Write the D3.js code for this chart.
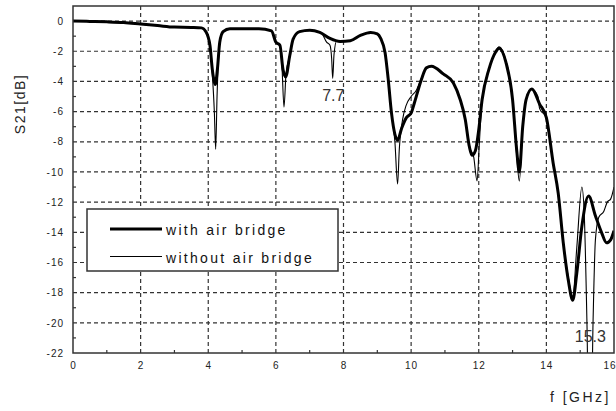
<!DOCTYPE html>
<html>
<head>
<meta charset="utf-8">
<script src="https://cdn.jsdelivr.net/npm/d3@7"></script>
<style>
  body { margin: 0; background: #fff; }
  text { font-family: "Liberation Sans", Arial, sans-serif; }
</style>
</head>
<body>
<div id="chart"></div>
<script>
// ---- data ----
const withF = [0, 0.5, 1, 1.5, 2, 2.5, 3, 3.5, 3.8, 3.93, 4.05, 4.12, 4.21, 4.27, 4.34, 4.44, 4.64, 5, 5.5, 5.87, 6, 6.12,
  6.21, 6.29, 6.41, 6.51, 6.7, 7, 7.3, 7.6, 7.9, 8.2, 8.5, 8.8, 9, 9.1, 9.23, 9.32, 9.42, 9.52, 9.6, 9.72, 9.86, 10,
  10.1, 10.3, 10.45, 10.6, 10.95, 11.25, 11.45, 11.6, 11.72, 11.8, 11.9, 12, 12.1, 12.3, 12.5, 12.6, 12.8, 13, 13.12,
  13.2, 13.3, 13.4, 13.57, 13.8, 14, 14.2, 14.35, 14.5, 14.65, 14.78, 14.9, 15.05, 15.25, 15.45, 15.63, 15.78, 15.9, 16];
const withV = [0, -0.02, -0.05, -0.1, -0.2, -0.3, -0.4, -0.42, -0.45, -0.7, -1.6, -3.2, -4.2, -3.2, -1.4, -0.7, -0.5, -0.5, -0.5, -0.65, -1.4, -1.6,
  -3.2, -3.7, -2.3, -1.2, -0.7, -0.6, -0.75, -1.15, -1.35, -1.3, -0.95, -0.75, -0.85, -1.15, -2.1, -3.8, -6.1, -7.5, -7.9, -7.1, -6.4, -6.1,
  -5.4, -3.9, -3.1, -3.0, -3.5, -4.1, -5.2, -6.5, -8.3, -8.9, -8.6, -7.2, -5.2, -3.2, -2.05, -1.8, -2.7, -5.2, -8.5,
  -10.0, -7.0, -5.2, -4.5, -5.5, -6.4, -9.4, -11.4, -14.7, -17.2, -18.5, -16.7, -13.6, -11.6, -12.9, -14.0, -14.7, -14.5, -13.9];

const withoutF = [0, 0.5, 1, 1.5, 2, 2.5, 3, 3.5, 3.8, 3.93, 4.05, 4.12, 4.18, 4.22, 4.26, 4.34, 4.44, 4.64, 5, 5.5, 5.87, 6, 6.12,
  6.18, 6.24, 6.3, 6.41, 6.51, 6.7, 7, 7.35, 7.5, 7.6, 7.65, 7.68, 7.72, 7.8, 7.9, 8.2, 8.5, 8.8, 9, 9.1, 9.23, 9.32, 9.42, 9.52, 9.6,
  9.65, 9.75, 9.85, 10, 10.15, 10.3, 10.45, 10.6, 10.95, 11.25, 11.45, 11.6, 11.72, 11.85, 11.95, 12.02, 12.1, 12.3, 12.5, 12.6, 12.8,
  13, 13.12, 13.2, 13.3, 13.4, 13.57, 13.75, 13.8, 14, 14.2, 14.35, 14.5, 14.65, 14.78, 14.9, 15.05, 15.12, 15.2, 15.25, 15.33, 15.38,
  15.45, 15.55, 15.7, 15.8, 15.9, 16];
const withoutV = [0, -0.02, -0.05, -0.1, -0.2, -0.3, -0.4, -0.42, -0.45, -0.7, -1.6, -3.5, -6.0, -8.5, -5.0, -1.4, -0.7, -0.5, -0.5, -0.5, -0.65, -1.4, -1.6,
  -3.0, -5.7, -3.5, -2.3, -1.2, -0.7, -0.6, -0.8, -1.4, -1.6, -2.5, -3.8, -2.2, -1.3, -1.35, -1.3, -0.95, -0.75, -0.85, -1.15, -2.1, -3.8, -6.1, -8.0, -10.8,
  -8.5, -6.5, -5.6, -5.0, -4.6, -3.8, -3.1, -3.0, -3.5, -4.1, -5.2, -6.5, -8.3, -9.0, -10.6, -8.0, -5.2, -3.2, -2.0, -1.7, -2.6,
  -5.2, -8.8, -10.6, -7.0, -5.2, -4.5, -5.0, -5.8, -6.4, -9.4, -11.4, -14.7, -17.0, -18.3, -15.0, -11.0, -12.8, -20, -26, -26, -20,
  -14.5, -13.0, -12.6, -12.0, -11.8, -11.0];

const xTicks = [0, 2, 4, 6, 8, 10, 12, 14, 16];
const yTicks = [0, -2, -4, -6, -8, -10, -12, -14, -16, -18, -20, -22];
const legendLabels = ["with air bridge", "without air bridge"];
const notes = [{ f: 7.7, v: -5.3, t: "7.7" }, { f: 15.3, v: -21.3, t: "15.3" }];

// ---- layout ----
const W = 616, H = 411;
const pL = 73, pR = 614, pT = 6, pB = 353;
const ink = "#333";

const svg = d3.select("#chart").append("svg")
  .attr("width", W)
  .attr("height", H);

const x = d3.scaleLinear().domain([0, 16]).range([pL, pR]);
const y = d3.scaleLinear().domain([-22, 1]).range([pB, pT]);

// grid (dashed)
svg.append("g").selectAll("line")
  .data(xTicks.slice(1, -1))
  .enter().append("line")
    .attr("x1", d => x(d)).attr("x2", d => x(d))
    .attr("y1", pT).attr("y2", pB)
    .attr("stroke", ink).attr("stroke-width", 1.2)
    .attr("stroke-dasharray", "4,3");

svg.append("g").selectAll("line")
  .data(yTicks.slice(0, -1))
  .enter().append("line")
    .attr("x1", pL).attr("x2", pR)
    .attr("y1", d => y(d)).attr("y2", d => y(d))
    .attr("stroke", ink).attr("stroke-width", 1.2)
    .attr("stroke-dasharray", "4,3");

// minor ticks, pointing inward
const xMinor = d3.range(1, 16, 2);
svg.append("g").selectAll("line")
  .data(xMinor)
  .enter().append("line")
    .attr("x1", d => x(d)).attr("x2", d => x(d))
    .attr("y1", pB).attr("y2", pB - 3)
    .attr("stroke", ink).attr("stroke-width", 1.2);

const yMinor = d3.range(-21, 0, 2);
svg.append("g").selectAll("line")
  .data(yMinor)
  .enter().append("line")
    .attr("x1", pL).attr("x2", pL + 3)
    .attr("y1", d => y(d)).attr("y2", d => y(d))
    .attr("stroke", ink).attr("stroke-width", 1.2);

// tick labels via d3 axes, lines hidden
const xAxis = svg.append("g")
  .attr("transform", `translate(0,${pB})`)
  .call(d3.axisBottom(x).tickValues(xTicks).tickSize(0).tickPadding(9).tickFormat(d3.format("d")));
const yAxis = svg.append("g")
  .attr("transform", `translate(${pL},0)`)
  .call(d3.axisLeft(y).tickValues(yTicks).tickSize(0).tickPadding(9).tickFormat(d => d === 0 ? "0" : "-" + Math.abs(d)));
[xAxis, yAxis].forEach(a => {
  a.select(".domain").remove();
  a.selectAll("text")
    .attr("font-family", "'Liberation Sans', Arial, sans-serif")
    .attr("font-size", "10px")
    .attr("letter-spacing", "1px")
    .attr("fill", "#222");
});
// last x label sits at the page edge; keep it inside
xAxis.selectAll(".tick")
  .filter(d => d === 16)
  .select("text")
    .attr("text-anchor", "end")
    .attr("dx", "2px");

// curves
svg.append("clipPath").attr("id", "plotClip")
  .append("rect")
    .attr("x", pL).attr("y", pT)
    .attr("width", pR - pL).attr("height", pB - pT);

const line = d3.line()
  .x(d => x(d[0]))
  .y(d => y(d[1]))
  .curve(d3.curveMonotoneX);

const withoutPts = withoutF.map((f, i) => [f, withoutV[i]]);
const withPts = withF.map((f, i) => [f, withV[i]]);

svg.append("path")
  .attr("clip-path", "url(#plotClip)")
  .attr("d", line(withoutPts))
  .attr("fill", "none")
  .attr("stroke", "#000")
  .attr("stroke-width", 1.1);

svg.append("path")
  .attr("clip-path", "url(#plotClip)")
  .attr("d", line(withPts))
  .attr("fill", "none")
  .attr("stroke", "#000")
  .attr("stroke-width", 3)
  .attr("stroke-linejoin", "round");

// frame
svg.append("rect")
  .attr("x", pL).attr("y", pT)
  .attr("width", pR - pL).attr("height", pB - pT)
  .attr("fill", "none")
  .attr("stroke", ink)
  .attr("stroke-width", 1.5);

// annotations
svg.selectAll(".note")
  .data(notes)
  .enter().append("text")
    .attr("class", "note")
    .attr("x", d => x(d.f))
    .attr("y", d => y(d.v))
    .attr("text-anchor", "middle")
    .attr("font-size", "16px")
    .attr("fill", "#333")
    .text(d => d.t);

// legend
const lg = svg.append("g");
lg.append("rect")
  .attr("x", 87).attr("y", 209)
  .attr("width", 251).attr("height", 62)
  .attr("fill", "#fff")
  .attr("stroke", ink)
  .attr("stroke-width", 1.5);

legendLabels.forEach((lab, i) => {
  const ly = 229 + i * 27.5;
  lg.append("line")
    .attr("x1", 110).attr("x2", 162)
    .attr("y1", ly).attr("y2", ly)
    .attr("stroke", "#000")
    .attr("stroke-width", i === 0 ? 3 : 1);
  lg.append("text")
    .attr("x", 166).attr("y", ly + 6)
    .attr("font-size", "14px")
    .attr("letter-spacing", "2.3px")
    .attr("fill", "#111")
    .text(lab);
});

// axis titles
svg.append("text")
  .attr("transform", "translate(25,104) rotate(-90)")
  .attr("text-anchor", "middle")
  .attr("font-size", "14px")
  .attr("letter-spacing", "1.5px")
  .attr("fill", "#222")
  .text("S21[dB]");

svg.append("text")
  .attr("x", 611).attr("y", 402)
  .attr("text-anchor", "end")
  .attr("font-size", "14px")
  .attr("letter-spacing", "2.5px")
  .attr("fill", "#222")
  .text("f [GHz]");
</script>
</body>
</html>
